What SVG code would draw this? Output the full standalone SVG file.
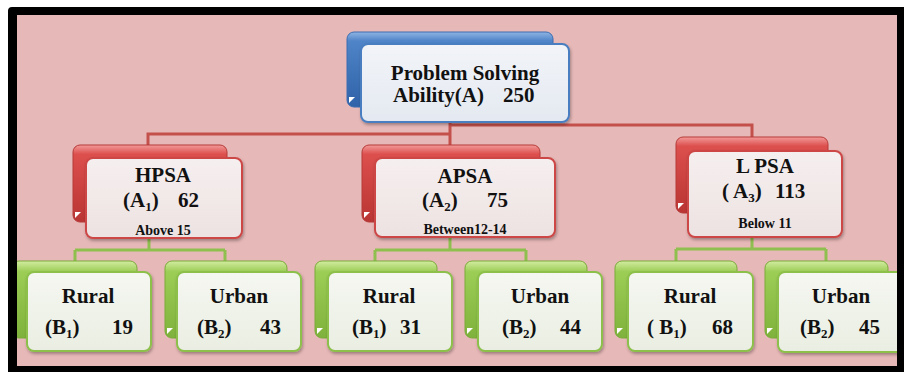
<svg xmlns="http://www.w3.org/2000/svg" width="904" height="372" viewBox="0 0 904 372">
<defs>
<linearGradient id="gBB" x1="0" y1="0" x2="0" y2="1"><stop offset="0" stop-color="#8fb4e3"/><stop offset="0.12" stop-color="#4f84c8"/><stop offset="1" stop-color="#2f62a8"/></linearGradient>
<linearGradient id="gBF" x1="0" y1="0" x2="0" y2="1"><stop offset="0" stop-color="#f2f4f8"/><stop offset="1" stop-color="#e4e9f1"/></linearGradient>
<linearGradient id="gRB" x1="0" y1="0" x2="0" y2="1"><stop offset="0" stop-color="#f29a98"/><stop offset="0.12" stop-color="#dc4f4d"/><stop offset="1" stop-color="#b93533"/></linearGradient>
<linearGradient id="gRF" x1="0" y1="0" x2="0" y2="1"><stop offset="0" stop-color="#f6efef"/><stop offset="1" stop-color="#ede2e2"/></linearGradient>
<linearGradient id="gGB" x1="0" y1="0" x2="0" y2="1"><stop offset="0" stop-color="#d2eca0"/><stop offset="0.14" stop-color="#9ccd55"/><stop offset="1" stop-color="#7fb23c"/></linearGradient>
<linearGradient id="gGF" x1="0" y1="0" x2="0" y2="1"><stop offset="0" stop-color="#f5f7f1"/><stop offset="1" stop-color="#eaeee2"/></linearGradient>
<filter id="sh" x="-10%" y="-10%" width="125%" height="140%"><feDropShadow dx="1" dy="2" stdDeviation="1.5" flood-color="#000" flood-opacity="0.3"/></filter>
<clipPath id="inner"><rect x="17" y="15" width="880" height="351"/></clipPath>
</defs>
<style>
.t{font-family:"Liberation Serif","Times New Roman",serif;font-weight:bold;fill:#111;font-size:21px}
.m{text-anchor:middle}
.s{font-size:13px}
.sm{font-size:14px}
.bb{fill:url(#gBB);stroke:#3c6db0;stroke-width:1}
.bf{fill:url(#gBF);stroke:#4a7ec0;stroke-width:2;filter:url(#sh)}
.rb{fill:url(#gRB);stroke:#b53a38;stroke-width:1}
.rf{fill:url(#gRF);stroke:#cc4745;stroke-width:2;filter:url(#sh)}
.gb{fill:url(#gGB);stroke:#7aab3a;stroke-width:1}
.gf{fill:url(#gGF);stroke:#8cc04c;stroke-width:2;filter:url(#sh)}
.curl{fill:#ffffff}
.cr{fill:none;stroke:#c4504c;stroke-width:3}
.cg{fill:none;stroke:#8fbf4f;stroke-width:3}
</style>
<rect x="0" y="0" width="904" height="372" fill="#ffffff"/>
<rect x="17" y="15" width="880" height="351" fill="#e6b8b7"/>
<g clip-path="url(#inner)">
<g id="connectors">
<path class="cr" d="M450,122V146M450,134H148V146M450,125H752V138"/>
<path class="cg" d="M149,238V250M75,250H225M75,250V262M225,250V262"/>
<path class="cg" d="M450,237V250M375,250H526M375,250V262M526,250V262"/>
<path class="cg" d="M752,237V249M676,249H826M676,249V262M826,249V262"/>
</g>
<g id="root">
<rect class="bb" x="347" y="32" width="206" height="75" rx="7"/>
<path class="curl" d="M349,97h6l-6,6z"/>
<rect class="bf" x="361" y="44" width="208" height="78" rx="7"/>
<text class="t m" x="465" y="80">Problem Solving</text>
<text class="t" x="393" y="102">Ability(A) <tspan x="503">250</tspan></text>
</g>
<g id="hpsa">
<rect class="rb" x="73" y="145" width="154" height="77" rx="7"/>
<path class="curl" d="M75,212h6l-6,6z"/>
<rect class="rf" x="86" y="158" width="156" height="80" rx="7"/>
<text class="t m" x="163" y="182">HPSA</text>
<text class="t" x="123" y="207">(A<tspan class="s" dy="4">1</tspan><tspan dy="-4">)</tspan><tspan x="178">62</tspan></text>
<text class="t m sm" x="163" y="235">Above  15</text>
</g>
<g id="apsa">
<rect class="rb" x="362" y="145" width="178" height="77" rx="7"/>
<path class="curl" d="M364,212h6l-6,6z"/>
<rect class="rf" x="375" y="158" width="180" height="79" rx="7"/>
<text class="t m" x="465" y="183">APSA</text>
<text class="t" x="422" y="207">(A<tspan class="s" dy="4">2</tspan><tspan dy="-4">)</tspan><tspan x="487">75</tspan></text>
<text class="t m sm" x="465" y="234">Between12-14</text>
</g>
<g id="lpsa">
<rect class="rb" x="676" y="137" width="152" height="76" rx="7"/>
<path class="curl" d="M678,203h6l-6,6z"/>
<rect class="rf" x="688" y="151" width="154" height="86" rx="7"/>
<text class="t m" x="765" y="173">L PSA</text>
<text class="t" x="722" y="198">( A<tspan class="s" dy="4">3</tspan><tspan dy="-4">)</tspan><tspan x="775">113</tspan></text>
<text class="t m sm" x="765" y="228">Below 11</text>
</g>
<g id="rural1">
<rect class="gb" x="12" y="261" width="125" height="77" rx="7"/>
<rect class="gf" x="27" y="272" width="124" height="79" rx="7"/>
<text class="t m" x="88" y="303">Rural</text>
<text class="t" x="45" y="334">(B<tspan class="s" dy="4">1</tspan><tspan dy="-4">)</tspan><tspan x="112">19</tspan></text>
</g>
<g id="urban1">
<rect class="gb" x="165" y="261" width="122" height="77" rx="7"/>
<path class="curl" d="M167,328h6l-6,6z"/>
<rect class="gf" x="177" y="272" width="124" height="79" rx="7"/>
<text class="t m" x="239" y="303">Urban</text>
<text class="t" x="197" y="334">(B<tspan class="s" dy="4">2</tspan><tspan dy="-4">)</tspan><tspan x="260">43</tspan></text>
</g>
<g id="rural2">
<rect class="gb" x="315" y="261" width="122" height="77" rx="7"/>
<path class="curl" d="M317,328h6l-6,6z"/>
<rect class="gf" x="328" y="272" width="124" height="79" rx="7"/>
<text class="t m" x="389" y="303">Rural</text>
<text class="t" x="352" y="334">(B<tspan class="s" dy="4">1</tspan><tspan dy="-4">)</tspan><tspan x="400">31</tspan></text>
</g>
<g id="urban2">
<rect class="gb" x="465" y="261" width="122" height="77" rx="7"/>
<path class="curl" d="M467,328h6l-6,6z"/>
<rect class="gf" x="478" y="272" width="124" height="79" rx="7"/>
<text class="t m" x="540" y="303">Urban</text>
<text class="t" x="502" y="334">(B<tspan class="s" dy="4">2</tspan><tspan dy="-4">)</tspan><tspan x="560">44</tspan></text>
</g>
<g id="rural3">
<rect class="gb" x="615" y="261" width="122" height="77" rx="7"/>
<path class="curl" d="M617,328h6l-6,6z"/>
<rect class="gf" x="628" y="272" width="125" height="79" rx="7"/>
<text class="t m" x="690" y="303">Rural</text>
<text class="t" x="647" y="334">( B<tspan class="s" dy="4">1</tspan><tspan dy="-4">)</tspan><tspan x="712">68</tspan></text>
</g>
<g id="urban3">
<rect class="gb" x="765" y="261" width="123" height="77" rx="7"/>
<path class="curl" d="M767,328h6l-6,6z"/>
<rect class="gf" x="778" y="272" width="126" height="80" rx="7"/>
<text class="t m" x="841" y="303">Urban</text>
<text class="t" x="800" y="334">(B<tspan class="s" dy="4">2</tspan><tspan dy="-4">)</tspan><tspan x="859">45</tspan></text>
</g>
</g>
<path d="M8,11Q8,7 12,7H904V372H8Z M17,15V366H897V15Z" fill="#000000" fill-rule="evenodd"/>
</svg>
